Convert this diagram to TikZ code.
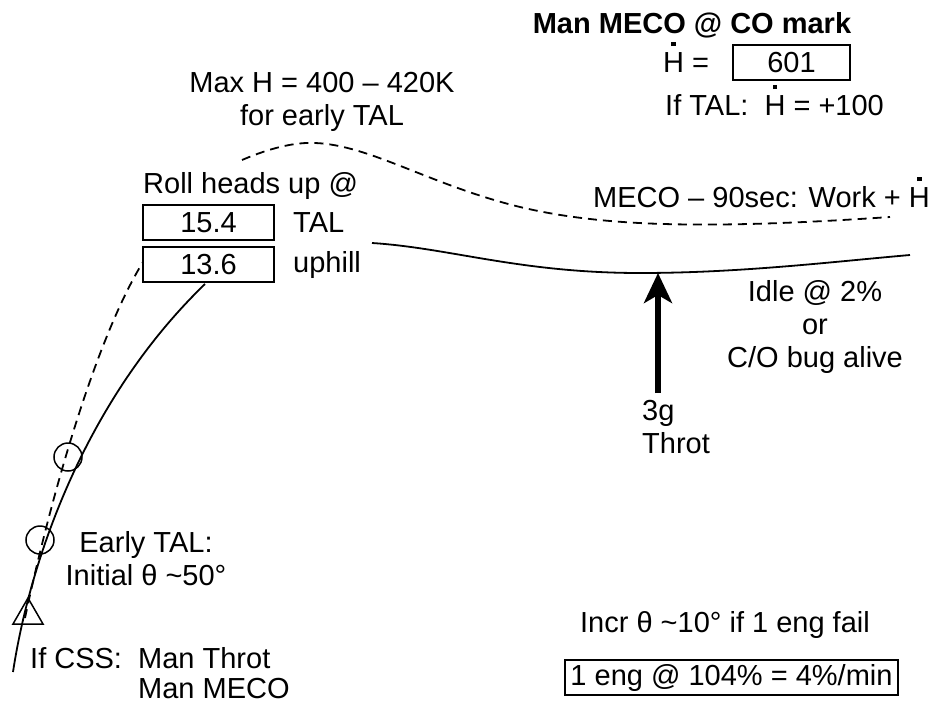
\documentclass[tikz,border=0pt]{standalone}
\usepackage{fontspec}
\setmainfont{Liberation Sans}
\usetikzlibrary{arrows.meta}

% H with a square dot on top
\newcommand\Hdot{\leavevmode\setbox0\hbox{H}\rlap{\hbox to\wd0{\hss\raisebox{\dimexpr\ht0+6pt\relax}{\rule{4.5pt}{4.5pt}}\hss}}H}

\tikzset{
  txt/.style={font=\fontsize{29}{33}\selectfont, inner sep=0pt},
  numbox/.style={txt, draw, line width=1.8pt, minimum height=35pt},
  traj/.style={line width=1.8pt},
  trajdash/.style={line width=1.8pt, dash pattern=on 9pt off 6pt},
  mark circ/.style={circle, draw, line width=1.5pt, minimum size=28pt, inner sep=0pt},
  thrarrow/.style={line width=6pt, -{Stealth[length=30pt, width=28pt, inset=8pt]}}
}

\begin{document}
\begin{tikzpicture}[x=1pt, y=-1pt]
  \useasboundingbox (0,0) rectangle (934,704);

  % MECO notes, top right
  \node[txt, font=\fontsize{29}{33}\selectfont\bfseries, anchor=base] (title) at (692,33) {Man MECO @ CO mark};
  \node[txt, anchor=base west] (hdoteq) at (663,72) {\Hdot{} =};
  \node[numbox, minimum width=117pt] (cobox) at (791.5,62.5) {601};
  \node[txt, anchor=base west] (taltxt) at (665,115) {If TAL:\ \ \Hdot{} = +100};
  \node[txt, anchor=base west] (work) at (593,207) {MECO -- 90sec: Work + \Hdot};

  % max altitude note (base = last line)
  \node[txt, align=center, anchor=base] (maxh) at (322,125) {Max H = 400 -- 420K\\for early TAL};

  % trajectories
  \draw[trajdash] (25,618) .. controls (50,500) and (95,340) .. (143,262);
  \draw[trajdash] (242,160) .. controls (270,148) and (295,142) .. (315,143)
    .. controls (370,145) and (430,185) .. (520,207)
    .. controls (600,226) and (700,230) .. (890,217);
  \draw[traj] (13,672) .. controls (30,560) and (85,400) .. (205,284);
  \draw[traj] (372,243) .. controls (450,248) and (520,273) .. (640,273)
    .. controls (740,273) and (830,262) .. (910,255);

  % roll heads up boxes
  \node[txt, anchor=base west] (roll) at (143,193) {Roll heads up @};
  \foreach \n/\val/\lab/\y in {tal/15.4/TAL/222.5, up/13.6/uphill/264.5} {
    \node[numbox, minimum width=131pt] (\n box) at (208.5,\y) {\val};
    \node[txt, anchor=west] (\n lab) at (293,\y) {\lab};
  }

  % throttle arrow
  \coordinate (thrfoot) at (658,393);
  \coordinate (minpt) at (658,273);
  \draw[thrarrow] (thrfoot) -- (minpt);
  \node[txt, align=left, anchor=base west] (thr) at (642,453) {3g\\Throt};
  \node[txt, align=center, anchor=base] (idle) at (815,367) {Idle @ 2\%\\or\\C/O bug alive};

  % early TAL marks
  \node[mark circ] (c2) at (68,457) {};
  \node[mark circ] (c1) at (40,540) {};
  \draw[line width=1.5pt] (28,598) -- (13,624) -- (43,624) -- cycle;
  \node[txt, align=center, anchor=base] (early) at (146,585) {Early TAL:\\Initial θ \textasciitilde 50°};

  % CSS note
  \node[txt, anchor=base west] (css) at (30,668) {If CSS:};
  \node[txt, font=\fontsize{29}{30}\selectfont, align=left, anchor=base west] (cssman) at (138,698) {Man Throt\\Man MECO};

  % engine out notes
  \node[txt, anchor=base] (incr) at (725,632) {Incr θ \textasciitilde 10° if 1 eng fail};
  \node[numbox, line width=1.4pt, minimum width=333pt] (engbox) at (731.5,677.5) {1 eng @ 104\% = 4\%/min};
\end{tikzpicture}
\end{document}
